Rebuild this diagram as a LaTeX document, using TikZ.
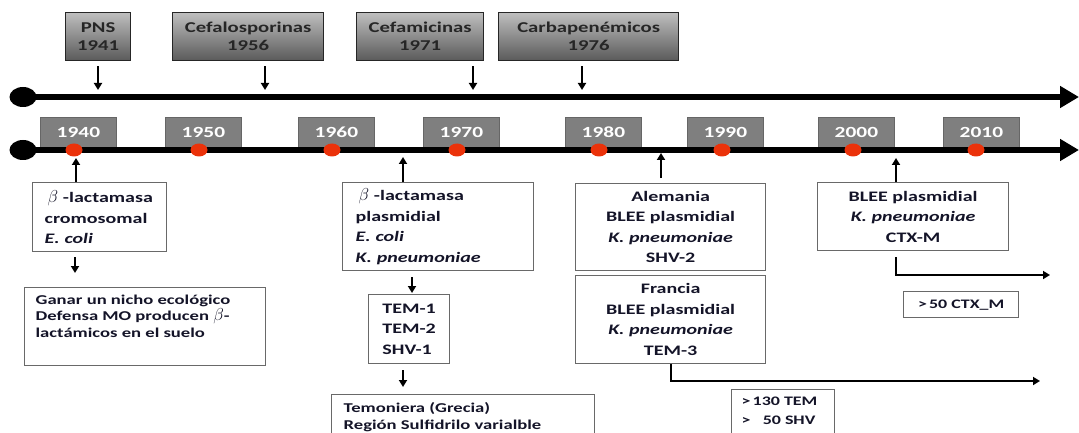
\documentclass[tikz,border=0pt]{standalone}
\usepackage{fontspec}
\setmainfont{Carlito}[FakeStretch=1.38]
\usetikzlibrary{arrows.meta,shapes.geometric}
\definecolor{txt}{RGB}{20,20,40}
\definecolor{reddot}{RGB}{235,50,10}
\definecolor{yearfill}{RGB}{127,127,127}
\definecolor{gtop}{RGB}{190,190,190}
\definecolor{gbot}{RGB}{90,90,90}
\definecolor{boxline}{RGB}{105,105,105}
\newcommand{\bet}{{\fontsize{17}{20}\selectfont$\beta$}}
\begin{document}
\begin{tikzpicture}[x=1pt,y=-1pt,
  drug/.style={draw=black!85, line width=1.3pt, top color=gtop, bottom color=gbot,
    anchor=north west, align=center, inner sep=0pt,
    font=\bfseries\fontsize{15}{18}\selectfont, text=black!85},
  yearbox/.style={draw=black!60, line width=0.8pt, fill=yearfill, anchor=north west,
    inner sep=0pt, minimum width=76pt, minimum height=30pt,
    font=\bfseries\fontsize{15.5}{18}\selectfont, text=white},
  dot/.style={ellipse, fill=reddot, minimum width=17pt, minimum height=13pt, inner sep=0pt},
  tline/.style={line width=5.5pt, -{Triangle[length=19pt,width=21pt]}},
  lbox/.style={draw=boxline, line width=1.3pt, fill=white, anchor=north west,
    inner sep=0pt, font=\bfseries\fontsize{14.5}{20.5}\selectfont, text=txt},
  arr/.style={line width=2pt, -{Triangle[length=7pt,width=8pt]}},
]
\useasboundingbox (0,0) rectangle (1079,433);
\clip (0,0) rectangle (1079,433);

% ---------- top timeline ----------
\coordinate (L1s) at (23,97);
\coordinate (L1e) at (1079,97);
\draw[tline] (L1s) -- (L1e);
\fill (L1s) ellipse (13.5 and 10);

\node[drug, minimum width=65pt, minimum height=48pt] (pns) at (65,12) {PNS\\1941};
\node[drug, minimum width=151pt, minimum height=48pt] (cefa) at (172,12) {Cefalosporinas\\1956};
\node[drug, minimum width=127pt, minimum height=48pt] (cefam) at (356,12) {Cefamicinas\\1971};
\node[drug, minimum width=180pt, minimum height=48pt] (carba) at (498,12) {Carbapenémicos\\1976};

\coordinate (t1) at (98,90);
\coordinate (t2) at (265,90);
\coordinate (t3) at (473,90);
\coordinate (t4) at (582,90);
\draw[arr, shorten <=5pt] (pns.south -| t1) -- (t1);
\draw[arr, shorten <=5pt] (cefa.south -| t2) -- (t2);
\draw[arr, shorten <=5pt] (cefam.south -| t3) -- (t3);
\draw[arr, shorten <=5pt] (carba.south -| t4) -- (t4);

% ---------- year timeline ----------
\node[yearbox] (y1940) at (40,117) {1940\hspace{8pt}};
\node[yearbox] (y1950) at (165,117) {1950\hspace{8pt}};
\node[yearbox] (y1960) at (298,117) {1960\hspace{8pt}};
\node[yearbox] (y1970) at (423,117) {1970\hspace{8pt}};
\node[yearbox] (y1980) at (565,117) {1980\hspace{8pt}};
\node[yearbox] (y1990) at (687,117) {1990\hspace{8pt}};
\node[yearbox] (y2000) at (818,117) {2000\hspace{8pt}};
\node[yearbox] (y2010) at (943,117) {2010\hspace{8pt}};

\coordinate (L2s) at (23,150);
\coordinate (L2e) at (1079,150);
\draw[tline] (L2s) -- (L2e);
\fill (L2s) ellipse (13.5 and 10);

\node[dot] (d1) at (74,150) {};
\node[dot] (d2) at (199,150) {};
\node[dot] (d3) at (332,150) {};
\node[dot] (d4) at (457,150) {};
\node[dot] (d5) at (599,150) {};
\node[dot] (d6) at (722,150) {};
\node[dot] (d7) at (853,150) {};
\node[dot] (d8) at (976,150) {};

% ---------- lower boxes ----------
\node[lbox, minimum width=134pt, minimum height=69pt, text width=110pt, align=left] (crom) at (32,182)
  {\hspace{3pt}\bet~-lactamasa\\cromosomal\\\textit{E. coli}};
\node[lbox, inner xsep=11pt, inner ysep=7pt, font=\bfseries\fontsize{13.5}{16.5}\selectfont] (ganar) at (24,287)
  {\parbox[t][64pt][t]{219pt}{\raggedright Ganar un nicho ecológico\\Defensa MO producen \bet-\\lactámicos en el suelo}};

\node[lbox, minimum width=191pt, minimum height=88pt, text width=165pt, align=left] (plas) at (342,182)
  {\hspace{3pt}\bet~-lactamasa\\plasmidial\\\textit{E. coli}\\\textit{K. pneumoniae}};
\node[lbox, minimum width=81pt, minimum height=69pt, align=left] (tem) at (368,294)
  {TEM-1\\TEM-2\\SHV-1};
\node[lbox, inner xsep=12pt, inner ysep=8pt, font=\bfseries\fontsize{13.5}{17}\selectfont] (temon) at (331,394)
  {\parbox[t][52pt][t]{239pt}{\raggedright Temoniera (Grecia)\\Región Sulfidrilo varialble}};

\node[lbox, minimum width=190pt, minimum height=87pt, align=center] (alem) at (575,183)
  {Alemania\\BLEE plasmidial\\\textit{K. pneumoniae}\\SHV-2};
\node[lbox, minimum width=190pt, minimum height=88pt, align=center] (fran) at (575,275)
  {Francia\\BLEE plasmidial\\\textit{K. pneumoniae}\\TEM-3};
\node[lbox, inner xsep=10pt, inner ysep=7pt, minimum width=103pt, font=\bfseries\fontsize{13}{19}\selectfont] (t130) at (731,389)
  {\parbox[t][44pt][t]{83pt}{\raggedright >\,130 TEM\\>\ \ \ 50 SHV}};

\node[lbox, minimum width=191pt, minimum height=68pt, align=center] (blee) at (817,182)
  {BLEE plasmidial\\\textit{K. pneumoniae}\\CTX-M};
\node[lbox, minimum width=115pt, minimum height=26pt, font=\bfseries\fontsize{13}{16}\selectfont] (ctx) at (903,291)
  {>\,50 CTX\_M};

% ---------- connectors ----------
\coordinate (u1) at (76,158);
\coordinate (u2) at (403,157);
\coordinate (u3) at (661,153);
\coordinate (u4) at (896,158);
\draw[arr] (crom.north -| u1) -- (u1);
\draw[arr] (plas.north -| u2) -- (u2);
\draw[arr, shorten <=5pt] (alem.north -| u3) -- (u3);
\draw[arr] (blee.north -| u4) -- (u4);

\coordinate (x75) at (75,0);
\coordinate (x412) at (412,0);
\coordinate (x403) at (403,0);
\draw[arr, shorten <=5pt, shorten >=14pt] (crom.south -| x75) -- (ganar.north -| x75);
\draw[arr, shorten <=6pt, shorten >=1pt] (plas.south -| x412) -- (tem.north -| x412);
\draw[arr, shorten <=6pt, shorten >=7pt] (tem.south -| x403) -- (temon.north -| x403);

\coordinate (f1) at (671,381);
\coordinate (f2) at (1040,381);
\draw[arr, line join=miter] (fran.south -| f1) -- (f1) -- (f2);
\coordinate (b1) at (896,275);
\coordinate (b2) at (1050,275);
\draw[arr, line join=miter, shorten <=6pt] (blee.south -| b1) -- (b1) -- (b2);
\end{tikzpicture}
\end{document}
